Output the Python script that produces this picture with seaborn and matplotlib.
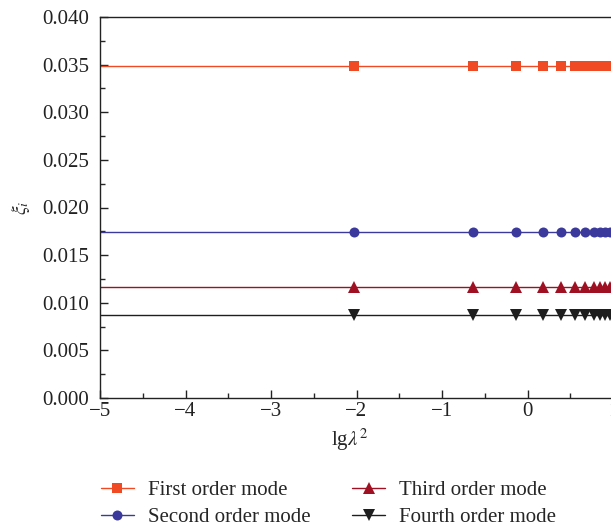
import numpy as np
import pandas as pd
import matplotlib
matplotlib.use("Agg")
import matplotlib.pyplot as plt
import seaborn as sns

sns.set_theme(style="ticks")
plt.rcParams['font.family'] = ['Liberation Serif', 'DejaVu Serif']
plt.rcParams['mathtext.fontset'] = 'stix'

# lg(lambda^2) sample points; the first entry is where the line starts (no marker)
x_vals = [-5.0, -2.03, -0.636, -0.129, 0.18, 0.39, 0.55, 0.67, 0.78, 0.85,
          0.91, 0.96, 1.01, 1.06, 1.10, 1.14, 1.18]
first_mode = [0.0349] * len(x_vals)
second_mode = [0.01747] * len(x_vals)
third_mode = [0.01164] * len(x_vals)
fourth_mode = [0.00874] * len(x_vals)

labels = ['First order mode', 'Second order mode', 'Third order mode', 'Fourth order mode']
colors = ['#F04A25', '#3B3A9C', '#9E1022', '#1E1E1E']
markers = ['s', 'o', '^', 'v']
msizes = [6.5, 7.2, 8.5, 8.5]
series = [first_mode, second_mode, third_mode, fourth_mode]

fig = plt.figure(figsize=(6.11, 5.27), dpi=100)
# axes run past the right edge of the figure (the reference is cropped there)
ax = fig.add_axes([100 / 611, 129 / 527, 684 / 611, 381 / 527])

for lab, col, mk, ms, ys in zip(labels, colors, markers, msizes, series):
    df = pd.DataFrame({'x': x_vals, 'y': ys})
    sns.lineplot(data=df, x='x', y='y', ax=ax, color=col, marker=mk,
                 markersize=ms, markeredgewidth=0, linewidth=1.0,
                 markevery=slice(1, None), label=lab, legend=False)

ax.set_xlim(-5, 3)
ax.set_ylim(0, 0.040)
ax.set_xticks(np.arange(-5, 4, 1))
ax.set_xticklabels(['\u22125', '\u22124', '\u22123', '\u22122', '\u22121', '0', '1', '2', '3'])
ax.set_xticks(np.arange(-4.5, 3, 1), minor=True)
ax.set_yticks(np.arange(0, 0.0401, 0.005))
ax.set_yticklabels([f'{v:.3f}' for v in np.arange(0, 0.0401, 0.005)])
ax.set_yticks(np.arange(0.0025, 0.04, 0.005), minor=True)
ax.tick_params(axis='both', which='major', direction='in', length=6, width=1,
               labelsize=15, colors='#222222')
ax.tick_params(axis='y', which='major', pad=8)
ax.tick_params(axis='x', which='major', pad=3)
ax.tick_params(axis='both', which='minor', direction='in', length=3.5, width=1)
for sp in ax.spines.values():
    sp.set_linewidth(1.0)
    sp.set_color('#222222')

ax.set_xlabel(r'lg$\lambda^2$', fontsize=15)
ax.set_ylabel(r'$\xi_i$', fontsize=14)
ax.xaxis.set_label_coords((350 - 100) / 684, -0.074)
ax.yaxis.set_label_coords((32 - 100) / 684, 0.5)

handles, hl = ax.get_legend_handles_labels()
fig.legend(handles, hl,
           loc='upper left', bbox_to_anchor=(82 / 611, 1 - 462 / 527),
           ncol=2, frameon=False, fontsize=15, handlelength=1.6,
           numpoints=1, columnspacing=2.0, labelspacing=0.33, handletextpad=0.65)

fig.savefig('out.png', dpi=100)
